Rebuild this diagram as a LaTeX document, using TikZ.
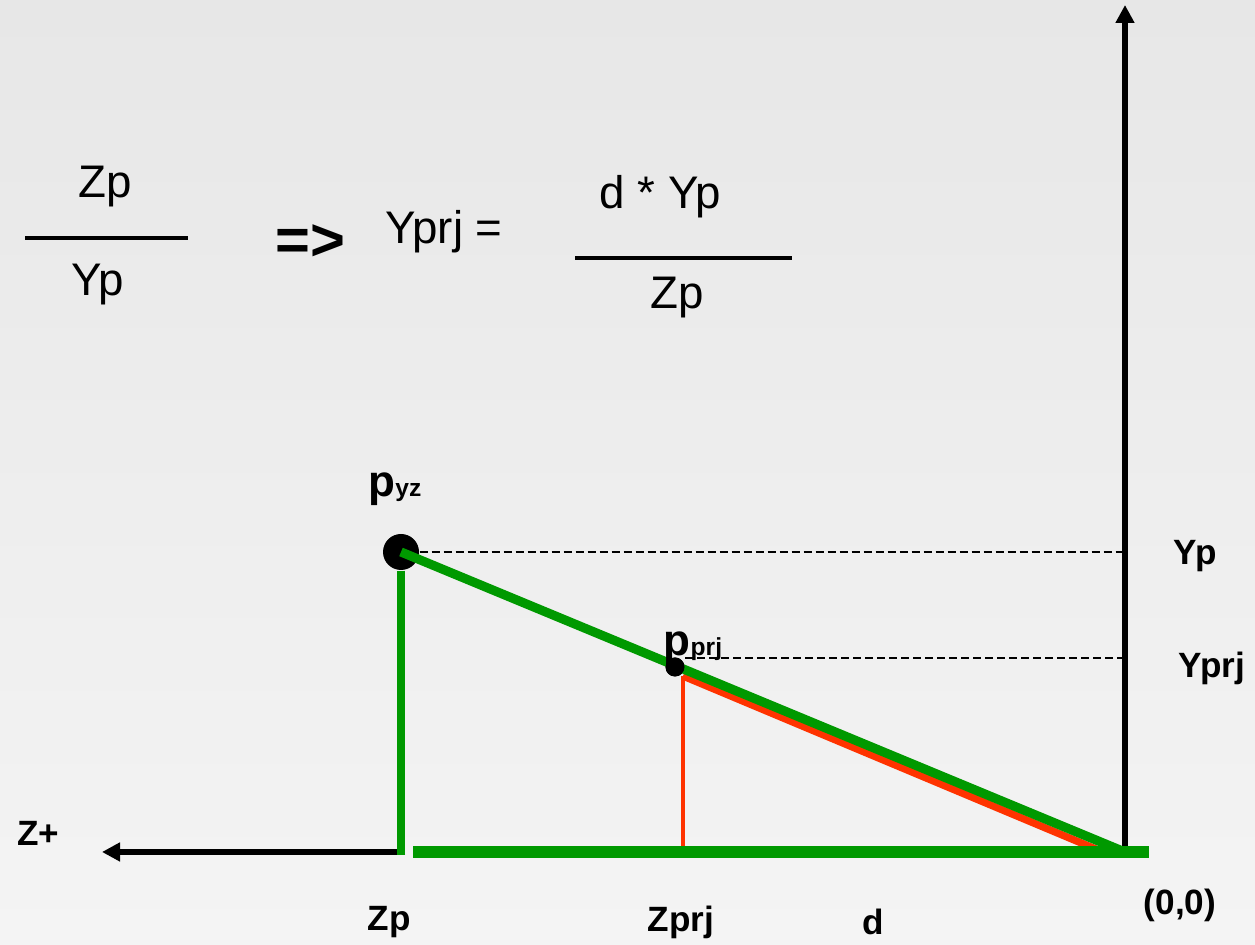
\documentclass[tikz,border=0pt]{standalone}
\usepackage{fontspec}
\setmainfont{Liberation Sans}
\usetikzlibrary{arrows.meta, positioning}
\definecolor{pgreen}{HTML}{009900}
\definecolor{pred}{HTML}{FF3300}
\definecolor{bgtop}{HTML}{E7E7E7}
\definecolor{bgbot}{HTML}{F4F4F4}
\tikzset{
  >={Triangle[length=1.8mm,width=1.8mm]},
  axis/.style={->, line width=1.7pt, draw=black},
  greenline/.style={line width=#1, draw=pgreen},
  greenline/.default=2.4pt,
  redline/.style={line width=#1, draw=pred},
  redline/.default=2.1pt,
  guide/.style={draw=black, line width=0.6pt, dash pattern=on 0.8mm off 0.4mm},
  fracbar/.style={line width=1.4pt, draw=black},
  eq/.style={font=\fontsize{13}{15}\selectfont, inner sep=0pt},
  lab/.style={font=\fontsize{10}{12}\selectfont\bfseries, inner sep=0pt},
  plab/.style={font=\fontsize{12.5}{14}\selectfont\bfseries, inner sep=0pt},
  dot/.style={circle, fill=black, inner sep=0pt, minimum size=#1}
}

\begin{document}
\begin{tikzpicture}
  \useasboundingbox (0,0) rectangle (12.55,9.45);
  \shade[top color=bgtop, bottom color=bgbot] (0,0) rectangle (12.55,9.45);

  \node[eq] (zpnum) at (1.05,7.58) {Zp};
  \node[eq] (ypden) at (0.98,6.60) {Yp};
  \draw[fracbar] (0.25,7.07) -- (1.88,7.07);
  \node[font=\fontsize{17}{19}\selectfont\bfseries, inner sep=0pt] (imp) at (3.10,7.02) {=>};
  \node[eq] (yprjeq) at (4.44,7.13) {Yprj =};
  \node[eq] (dyp) at (6.60,7.48) {d * Yp};
  \node[eq] (zpden) at (6.77,6.47) {Zp};
  \draw[fracbar] (5.75,6.87) -- (7.92,6.87);

  \coordinate (O) at (11.25,0.93);
  \coordinate (ytip) at (11.25,9.40);
  \coordinate (ztip) at (1.02,0.93);
  \coordinate (zaxR) at (4.05,0.93);
  \coordinate (zp) at (4.01,0.90);
  \coordinate (barL) at (4.13,0.93);
  \coordinate (barR) at (11.49,0.93);
  \coordinate (diagE) at (11.20,0.95);
  \coordinate (redS) at (6.83,2.69);
  \coordinate (redE) at (10.98,0.95);
  \coordinate (zprj) at (6.83,0.97);

  \node[dot=3.6mm] (pyzdot) at (4.01,3.93) {};
  \node[dot=1.9mm] (pprjdot) at (6.75,2.78) {};

  \draw[guide] (pyzdot.east) -- (pyzdot.east -| O);
  \draw[guide] (6.85,2.87) -- (6.85,2.87 -| O);

  \draw[axis] (O) -- (ytip);
  \draw[axis] (zaxR) -- (ztip);

  \draw[redline=1.1pt] (redS) -- (zprj);
  \draw[redline] (redS) -- (redE);

  \draw[greenline=2pt] (pyzdot.south) -- (zp);
  \draw[greenline=3.4pt] (barL) -- (barR);
  \draw[greenline=2.6pt] (pyzdot.center) -- (diagE);
  \node[dot=1.9mm] at (pprjdot) {};

  \node[plab] (pyzlab) at (3.95,4.56) {p{\fontsize{7}{8}\selectfont yz}};
  \node[plab] (pprjlab) at (6.93,2.97) {p{\fontsize{7}{8}\selectfont prj}};
  \node[lab] (yplab) at (11.95,3.89) {Yp};
  \node[lab] (yprjlab) at (12.12,2.77) {Yprj};
  \node[lab] (zplus) at (0.38,1.12) {Z+};
  \node[lab] (zplab) at (3.89,0.23) {Zp};
  \node[lab] (zprjlab) at (6.81,0.23) {Zprj};
  \node[lab] (dlab) at (8.73,0.23) {d};
  \node[lab] (origin) at (11.80,0.40) {(0,0)};
\end{tikzpicture}
\end{document}
